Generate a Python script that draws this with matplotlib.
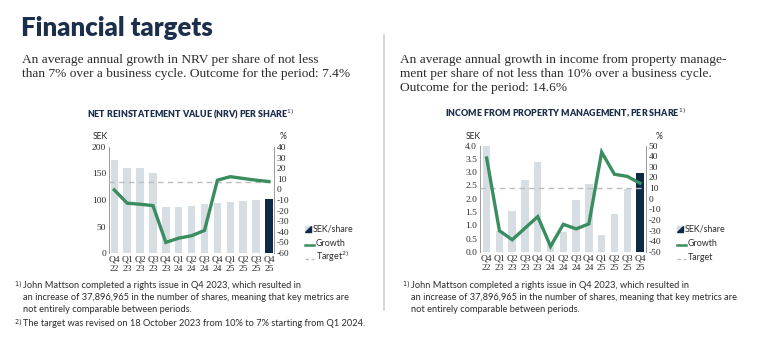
import matplotlib
matplotlib.use("Agg")
import matplotlib.pyplot as plt
from matplotlib.patches import Polygon, Rectangle
from matplotlib.lines import Line2D

# Quarter labels shared by both charts
quarters = ["Q4\n22", "Q1\n23", "Q2\n23", "Q3\n23", "Q4\n23", "Q1\n24", "Q2\n24",
            "Q3\n24", "Q4\n24", "Q1\n25", "Q2\n25", "Q3\n25", "Q4\n25"]

# NRV per share (SEK) and growth (%)
nrv_sek = [175, 160.5, 160, 150.5, 87.5, 87, 89, 92.5, 94, 96, 98, 100.5, 102]
nrv_growth = [-0.5, -13, -14, -15.3, -50, -46, -43.7, -38.7, 8.7, 12, 10.3, 8.7, 7.4]
nrv_target = 7

# Income from property management per share (SEK) and growth (%)
inc_sek = [4.1, 0.77, 1.54, 2.7, 3.38, 0.3, 0.75, 1.94, 2.56, 0.62, 1.44, 2.35, 2.98]
inc_growth = [38.2, -30, -38.5, -27.6, -16.8, -44.7, -24, -28.3, -23.6, 43.8, 23, 21, 14.6]
inc_target = 10

NAVY = "#1b2f4b"
BAR_LIGHT = "#d6dee3"
BAR_DARK = "#0e2a46"
GREEN = "#3a8d5f"
TARGET = "#bdbdbd"
TEXT = "#2b2b2b"
SANS = "Lato"
SERIF = "Liberation Serif"
TICK = 6.8

fig = plt.figure(figsize=(7.68, 3.43), dpi=100)
W, H = 768, 343


def fx(px):
    return px / W


def fy(py):
    return 1 - py / H


def draw_chart(rect, sek, growth, target, ylim, yticks, ylabels, plim, pticks, xlim):
    ax = fig.add_axes(rect)
    x = list(range(len(sek)))
    colors = [BAR_LIGHT] * (len(sek) - 1) + [BAR_DARK]
    ax.bar(x, sek, width=0.58, color=colors, zorder=1)
    ax.set_ylim(*ylim)
    ax.set_xlim(*xlim)
    ax.set_yticks(yticks)
    ax.set_yticklabels(ylabels)
    ax.set_xticks(x)
    ax.set_xticklabels(quarters, linespacing=1.15)
    for s in ["top", "bottom"]:
        ax.spines[s].set_visible(False)
    for s in ["left", "right"]:
        ax.spines[s].set_color("#9a9a9a")
        ax.spines[s].set_linewidth(0.7)
    ax.tick_params(length=0, labelsize=TICK, colors=TEXT, pad=2)
    ax.tick_params(axis="x", pad=2)
    ax2 = ax.twinx()
    ax2.set_ylim(*plim)
    ax2.set_yticks(pticks)
    ax2.set_yticklabels([str(v) for v in pticks])
    ax2.tick_params(length=0, labelsize=TICK, colors=TEXT, pad=2)
    for s in ["top", "bottom", "left", "right"]:
        ax2.spines[s].set_visible(False)
    ax2.axhline(target, color=TARGET, lw=1.0, ls=(0, (4, 3)), zorder=2)
    ax2.plot(x, growth, color=GREEN, lw=2.4, solid_joinstyle="miter", zorder=3)
    ax.set_zorder(1)
    ax2.set_zorder(2)
    for lab in ax.get_xticklabels() + ax.get_yticklabels() + ax2.get_yticklabels():
        lab.set_fontfamily(SERIF)
    return ax, ax2


# Left chart: NRV per share
draw_chart([fx(109), fy(253), fx(274) - fx(109), (253 - 147) / H],
           nrv_sek, nrv_growth, nrv_target,
           (0, 200), [0, 50, 100, 150, 200], ["0", "50", "100", "150", "200"],
           (-60, 40), list(range(-60, 41, 10)), (-0.41, 12.39))

# Right chart: income from property management per share
draw_chart([fx(480), fy(252), fx(646) - fx(480), (252 - 145.5) / H],
           inc_sek, inc_growth, inc_target,
           (0, 4), [0, 0.5, 1, 1.5, 2, 2.5, 3, 3.5, 4],
           ["0.0", "0.5", "1.0", "1.5", "2.0", "2.5", "3.0", "3.5", "4.0"],
           (-50, 50), list(range(-50, 51, 10)), (-0.52, 12.47))

# Axis unit labels
fig.text(fx(93), fy(137), "SEK", fontsize=6.2, family=SANS, color=TEXT, va="center")
fig.text(fx(280), fy(137), "%", fontsize=6.2, family=SANS, color=TEXT, va="center")
fig.text(fx(466), fy(136), "SEK", fontsize=6.2, family=SANS, color=TEXT, va="center")
fig.text(fx(656), fy(136), "%", fontsize=6.2, family=SANS, color=TEXT, va="center")

# Main heading and target descriptions
fig.text(fx(21), fy(36), "Financial targets", fontsize=18.5, family=SANS,
         weight="heavy", color=NAVY, va="baseline")
SUB = 9.65
fig.text(fx(22), fy(63), "An average annual growth in NRV per share of not less",
         fontsize=SUB, family=SERIF, color=TEXT, va="baseline")
fig.text(fx(22), fy(77), "than 7% over a business cycle. Outcome for the period: 7.4%",
         fontsize=SUB, family=SERIF, color=TEXT, va="baseline")
fig.text(fx(400), fy(63), "An average annual growth in income from property manage-",
         fontsize=SUB, family=SERIF, color=TEXT, va="baseline")
fig.text(fx(400), fy(77), "ment per share of not less than 10% over a business cycle.",
         fontsize=SUB, family=SERIF, color=TEXT, va="baseline")
fig.text(fx(400), fy(91), "Outcome for the period: 14.6%",
         fontsize=SUB, family=SERIF, color=TEXT, va="baseline")

# Chart titles
fig.text(fx(87), fy(117), "NET REINSTATEMENT VALUE (NRV) PER SHARE$^{1)}$",
         fontsize=6.4, family=SANS, weight="heavy", color=NAVY, va="baseline")
fig.text(fx(445), fy(117), "INCOME FROM PROPERTY MANAGEMENT, PER SHARE$^{1)}$",
         fontsize=6.4, family=SANS, weight="heavy", color=NAVY, va="baseline")

# Divider between the two halves
fig.add_artist(Line2D([fx(384), fx(384)], [fy(35), fy(310)], color="#d0d0d0",
                      lw=1.2, transform=fig.transFigure))


def legend(x0, rows, target_label):
    # SEK/share swatch: light square with dark lower-right triangle
    y = fy(rows[0])
    s = 6
    fig.add_artist(Rectangle((fx(x0), y - 3 / H), s / W, s / H, color=BAR_LIGHT,
                             transform=fig.transFigure))
    fig.add_artist(Polygon([(fx(x0), y - 3 / H), (fx(x0 + s), y - 3 / H),
                            (fx(x0 + s), y + 3 / H)], closed=True, color=BAR_DARK,
                           transform=fig.transFigure))
    fig.text(fx(x0 + 8), y, "SEK/share", fontsize=6.4, family=SANS, color=TEXT, va="center")
    y = fy(rows[1])
    fig.add_artist(Line2D([fx(x0), fx(x0 + 9)], [y - 1.5 / H, y - 1.5 / H], color=GREEN,
                          lw=1.8, transform=fig.transFigure))
    fig.text(fx(x0 + 11), y, "Growth", fontsize=6.4, family=SANS, color=TEXT, va="center")
    y = fy(rows[2])
    fig.add_artist(Line2D([fx(x0), fx(x0 + 9)], [y - 1.5 / H, y - 1.5 / H], color=TARGET,
                          lw=1.0, ls=(0, (2.5, 2)), transform=fig.transFigure))
    fig.text(fx(x0 + 11), y, target_label, fontsize=6.4, family=SANS, color=TEXT, va="center")


legend(305, [229, 243, 257], "Target$^{2)}$")
legend(677, [229, 243, 257], "Target")

# Footnotes
FN = 6.7
fig.text(fx(14), fy(288), "$^{1)}$", fontsize=FN, family=SANS, color=TEXT, va="baseline")
fig.text(fx(23), fy(288), "John Mattson completed a rights issue in Q4 2023, which resulted in",
         fontsize=FN, family=SANS, color=TEXT, va="baseline")
fig.text(fx(23), fy(300), "an increase of 37,896,965 in the number of shares, meaning that key metrics are",
         fontsize=FN, family=SANS, color=TEXT, va="baseline")
fig.text(fx(23), fy(312), "not entirely comparable between periods.",
         fontsize=FN, family=SANS, color=TEXT, va="baseline")
fig.text(fx(14), fy(326), "$^{2)}$", fontsize=FN, family=SANS, color=TEXT, va="baseline")
fig.text(fx(23), fy(326), "The target was revised on 18 October 2023 from 10% to 7% starting from Q1 2024.",
         fontsize=FN, family=SANS, color=TEXT, va="baseline")

fig.text(fx(402), fy(288), "$^{1)}$", fontsize=FN, family=SANS, color=TEXT, va="baseline")
fig.text(fx(411), fy(288), "John Mattson completed a rights issue in Q4 2023, which resulted in",
         fontsize=FN, family=SANS, color=TEXT, va="baseline")
fig.text(fx(411), fy(300), "an increase of 37,896,965 in the number of shares, meaning that key metrics are",
         fontsize=FN, family=SANS, color=TEXT, va="baseline")
fig.text(fx(411), fy(312), "not entirely comparable between periods.",
         fontsize=FN, family=SANS, color=TEXT, va="baseline")

fig.savefig("out.png", dpi=100, facecolor="white")
